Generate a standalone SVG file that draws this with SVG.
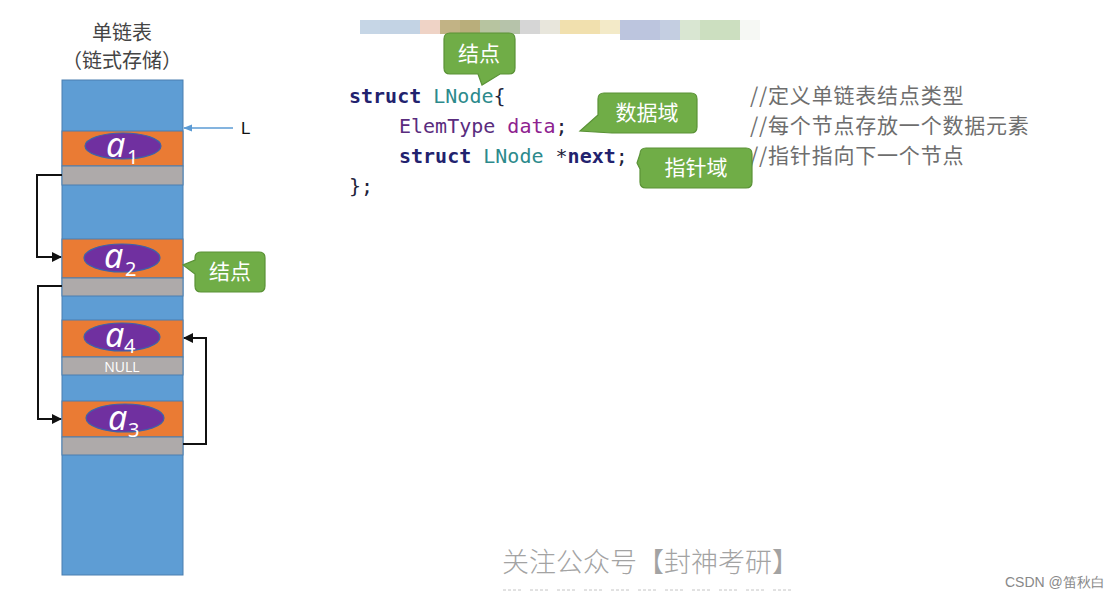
<svg xmlns="http://www.w3.org/2000/svg" width="1118" height="598" viewBox="0 0 1118 598">
<defs>
<style>
.cjk{font-family:"Noto Sans CJK SC",sans-serif}
.blue{fill:#5E9DD4;stroke:#4A7FB0;stroke-width:1}
.org{fill:#EA7B34;stroke:#4A7FB0;stroke-width:1}
.gry{fill:#AEAAAA;stroke:#4A7FB0;stroke-width:1}
.ell{fill:#7030A0;stroke:#3E63A8;stroke-width:1.2}
.av{font-family:"Noto Sans",sans-serif;font-style:italic;fill:#fff;font-size:34px}
.sub{font-family:"Noto Sans",sans-serif;fill:#fff;font-size:20px}
.call{fill:#70AD47;stroke:#5A9236;stroke-width:1.2}
.ct{font-family:"Noto Sans CJK SC",sans-serif;font-size:21px;fill:#fff}
.code{font-family:"DejaVu Sans Mono",monospace;font-size:20px}
.kw{fill:#22226E;font-weight:bold}
.ty{fill:#2C8A8C}
.id{fill:#5A2C7E}
.var{fill:#8E2290}
.pl{fill:#22223A}
.cm{font-family:"Noto Sans CJK SC",sans-serif;font-size:21px;letter-spacing:0.8px;fill:#6E6E6E}
.lnk{fill:none;stroke:#111;stroke-width:2}
</style>
<marker id="ah" viewBox="0 0 10 10" refX="9" refY="5" markerWidth="5" markerHeight="5" orient="auto">
<path d="M0,0 L10,5 L0,10 z" fill="#111"/>
</marker>
<marker id="ahb" viewBox="0 0 10 10" refX="9" refY="5" markerWidth="6" markerHeight="6" orient="auto">
<path d="M0,1 L10,5 L0,9 z" fill="#5B9BD5"/>
</marker>
</defs>
<rect width="1118" height="598" fill="#fff"/>

<g id="color-strip">
<rect x="360" y="20" width="20" height="14" fill="#C6D6E6"/>
<rect x="380" y="20" width="20" height="14" fill="#C3D3E4"/>
<rect x="400" y="20" width="20" height="14" fill="#C3D3E4"/>
<rect x="420" y="20" width="20" height="14" fill="#EFD3C6"/>
<rect x="440" y="20" width="20" height="14" fill="#C2B385"/>
<rect x="460" y="20" width="20" height="14" fill="#B9AE7B"/>
<rect x="480" y="20" width="20" height="14" fill="#B7C4A0"/>
<rect x="500" y="20" width="20" height="14" fill="#B6C3AA"/>
<rect x="520" y="20" width="20" height="14" fill="#D6D6D6"/>
<rect x="540" y="20" width="20" height="14" fill="#E8E6DC"/>
<rect x="560" y="20" width="40" height="14" fill="#F1E0AE"/>
<rect x="600" y="20" width="20" height="14" fill="#F3EAC8"/>
<rect x="620" y="20" width="40" height="20" fill="#BCC5DE"/>
<rect x="660" y="20" width="20" height="20" fill="#C4CEE1"/>
<rect x="680" y="20" width="20" height="20" fill="#D9E6D2"/>
<rect x="700" y="20" width="40" height="20" fill="#CCDFC0"/>
<rect x="740" y="20" width="20" height="20" fill="#F6F8F4"/>
</g>

<g id="title">
<text x="122" y="40" text-anchor="middle" class="cjk" font-size="20" fill="#444">单链表</text>
<text x="122" y="68" text-anchor="middle" class="cjk" font-size="20" fill="#444">（链式存储）</text>
</g>

<g id="memory">
<rect x="62" y="80" width="121" height="495" class="blue"/>
</g>

<g id="node-a1">
<rect x="62" y="131" width="121" height="35" class="org"/>
<rect x="62" y="166" width="121" height="19" class="gry"/>
<ellipse cx="123" cy="146" rx="38" ry="13" class="ell"/>
<text x="106" y="157" class="av">a</text><text x="127" y="164" class="sub">1</text>
</g>
<g id="node-a2">
<rect x="62" y="239" width="121" height="39" class="org"/>
<rect x="62" y="278" width="121" height="18" class="gry"/>
<ellipse cx="122" cy="258" rx="38" ry="14" class="ell"/>
<text x="104" y="268" class="av">a</text><text x="125" y="276" class="sub">2</text>
</g>
<g id="node-a4">
<rect x="62" y="320" width="121" height="37" class="org"/>
<rect x="62" y="357" width="121" height="18" class="gry"/>
<ellipse cx="122" cy="337" rx="38" ry="14" class="ell"/>
<text x="105" y="347" class="av">a</text><text x="124" y="353" class="sub">4</text>
<text x="122" y="372" text-anchor="middle" font-family="Open Sans,sans-serif" font-size="14" fill="#fff">NULL</text>
</g>
<g id="node-a3">
<rect x="62" y="401" width="121" height="36" class="org"/>
<rect x="62" y="437" width="121" height="18" class="gry"/>
<ellipse cx="125" cy="418" rx="39" ry="14" class="ell"/>
<text x="108" y="430" class="av">a</text><text x="128" y="437" class="sub">3</text>
</g>

<g id="connectors">
<path d="M62,175 H37 V257 H61" class="lnk" marker-end="url(#ah)"/>
<path d="M62,286 H38 V419 H61" class="lnk" marker-end="url(#ah)"/>
<path d="M183,444 H206 V338 H184" class="lnk" marker-end="url(#ah)"/>
<path d="M233,128 H184" fill="none" stroke="#5B9BD5" stroke-width="1.5" marker-end="url(#ahb)"/>
</g>

<g id="label-L">
<text x="241" y="134" font-family="Liberation Sans,sans-serif" font-size="17" fill="#111">L</text>
</g>

<g id="callout-node-left">
<path d="M201,252 H259 Q265,252 265,258 V286 Q265,292 259,292 H201 Q195,292 195,286 V274 L183,265 L195,260 V258 Q195,252 201,252 Z" class="call"/>
<text x="230" y="279" text-anchor="middle" class="ct">结点</text>
</g>

<g id="code">
<text x="349" y="103" class="code"><tspan class="kw">struct</tspan><tspan class="ty"> LNode</tspan><tspan class="pl">{</tspan></text>
<text x="399" y="133" class="code"><tspan class="id">ElemType</tspan><tspan class="var"> data</tspan><tspan class="pl">;</tspan></text>
<text x="399" y="163" class="code"><tspan class="kw">struct</tspan><tspan class="ty"> LNode</tspan><tspan class="pl"> *</tspan><tspan class="kw">next</tspan><tspan class="pl">;</tspan></text>
<text x="349" y="193" class="code pl">};</text>
</g>

<g id="comments">
<text x="750" y="103" class="cm">//定义单链表结点类型</text>
<text x="750" y="133" class="cm">//每个节点存放一个数据元素</text>
<text x="750" y="163" class="cm">//指针指向下一个节点</text>
</g>

<g id="callout-node-top">
<path d="M450,33 H509 Q515,33 515,39 V68 Q515,74 509,74 H500 L482,85 L478,74 H450 Q444,74 444,68 V39 Q444,33 450,33 Z" class="call"/>
<text x="479" y="61" text-anchor="middle" class="ct">结点</text>
</g>

<g id="callout-data">
<path d="M604,93 H691 Q697,93 697,99 V127 Q697,133 691,133 H612 L580,131 L598,115 V99 Q598,93 604,93 Z" class="call"/>
<text x="647" y="120" text-anchor="middle" class="ct">数据域</text>
</g>

<g id="callout-ptr">
<path d="M646,148 H746 Q752,148 752,154 V182 Q752,188 746,188 H646 Q640,188 640,182 V169 L637,163 L640,154 Q640,148 646,148 Z" class="call"/>
<text x="696" y="175" text-anchor="middle" class="ct">指针域</text>
</g>

<g id="watermark">
<text x="502" y="572" class="cjk" font-size="27" font-weight="300" fill="#A3A3A3">关注公众号【封神考研】</text>
<line x1="503" y1="590" x2="800" y2="590" stroke="#C4C4C4" stroke-width="1" stroke-dasharray="3,2,3,2,3,2,3,9"/>
<text x="1005" y="587" font-family="Liberation Sans,sans-serif" font-size="14" fill="#888">CSDN @笛秋白</text>
</g>
</svg>
